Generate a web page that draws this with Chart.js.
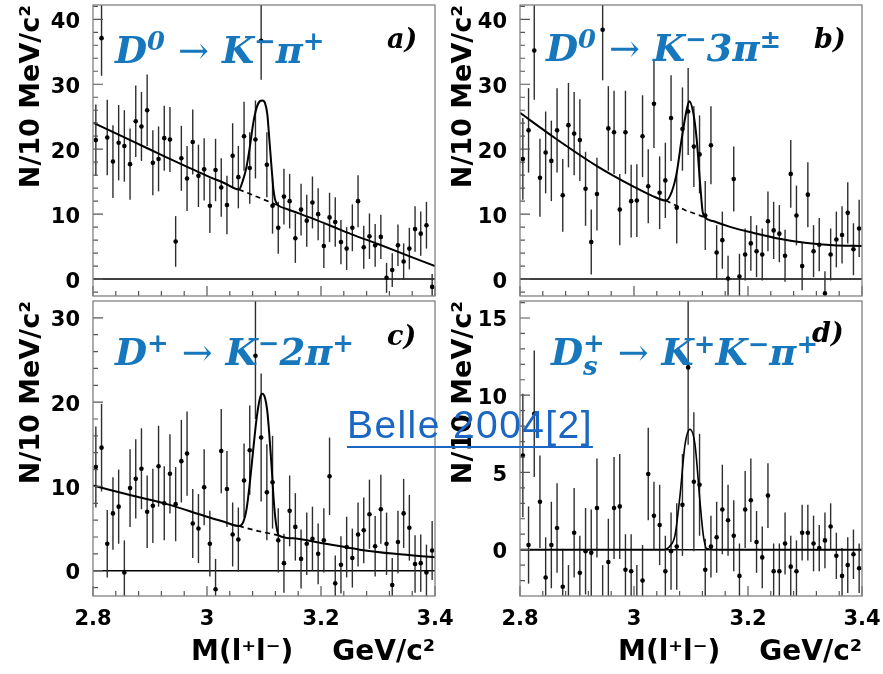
<!DOCTYPE html>
<html lang="en">
<head>
    <meta charset="UTF-8">
    <title>J/psi in D decays - Belle 2004</title>
    <script src="https://cdn.jsdelivr.net/npm/chart.js"></script>
    <style>
        body { margin: 0; background: #fff; }
        #fig { position: relative; width: 883px; height: 674px; background: #fff; overflow: hidden; }
        canvas { position: absolute; }
        .ttl {
            position: absolute; white-space: nowrap; line-height: 1;
            font-family: "DejaVu Serif"; font-weight: bold; font-style: italic;
            font-size: 37px; color: #1677bd;
        }
        .ttl sup { font-size: 0.7em; vertical-align: baseline; position: relative; top: -0.5em; }
        .ttl .ar { font-weight: normal; font-style: normal; }
        .ttl .ss { display: inline-block; font-size: 0.7em; line-height: 0.9; vertical-align: -0.38em; }
        .ttl .ss span { display: block; }
        .lab {
            position: absolute; line-height: 1; font-family: "DejaVu Serif";
            font-weight: bold; font-style: italic; font-size: 27px; color: #000;
        }
        #belle {
            position: absolute; left: 347px; top: 405px; line-height: 1; white-space: nowrap;
            font-family: "Liberation Sans"; font-size: 39px; letter-spacing: 1.4px; color: #1a66c2;
            text-decoration: underline; text-decoration-thickness: 2px; text-underline-offset: 8px;
        }
    </style>
</head>
<body>
<div id="fig">
    <canvas id="pa" width="440" height="300" style="left:0;top:0"></canvas>
    <canvas id="pb" width="443" height="300" style="left:440px;top:0"></canvas>
    <canvas id="pc" width="460" height="378" style="left:0;top:296px"></canvas>
    <canvas id="pd" width="443" height="378" style="left:440px;top:296px"></canvas>

    <div class="ttl" style="left:115px;top:32px">D<sup>0</sup> <span class="ar">→</span> K<sup>−</sup>π<sup>+</sup></div>
    <div class="ttl" style="left:546px;top:30px">D<sup>0</sup> <span class="ar">→</span> K<sup>−</sup>3π<sup>±</sup></div>
    <div class="ttl" style="left:115px;top:334px">D<sup>+</sup> <span class="ar">→</span> K<sup>−</sup>2π<sup>+</sup></div>
    <div class="ttl" style="left:551px;top:332px">D<span class="ss"><span>+</span><span>s</span></span> <span class="ar">→</span> K<sup>+</sup>K<sup>−</sup>π<sup>+</sup></div>

    <div class="lab" style="left:387px;top:25px">a)</div>
    <div class="lab" style="left:814px;top:25px">b)</div>
    <div class="lab" style="left:387px;top:322px">c)</div>
    <div class="lab" style="left:812px;top:319px">d)</div>

    <div id="belle">Belle 2004[2]</div>
</div>

<script>
// bin centres, 10 MeV bins (GeV/c^2)
const bins = [2.805, 2.815, 2.825, 2.835, 2.845, 2.855, 2.865, 2.875, 2.885, 2.895,
              2.905, 2.915, 2.925, 2.935, 2.945, 2.955, 2.965, 2.975, 2.985, 2.995,
              3.005, 3.015, 3.025, 3.035, 3.045, 3.055, 3.065, 3.075, 3.085, 3.095,
              3.105, 3.115, 3.125, 3.135, 3.145, 3.155, 3.165, 3.175, 3.185, 3.195,
              3.205, 3.215, 3.225, 3.235, 3.245, 3.255, 3.265, 3.275, 3.285, 3.295,
              3.305, 3.315, 3.325, 3.335, 3.345, 3.355, 3.365, 3.375, 3.385, 3.395];

// a) D0 -> K- pi+
const aVals = [21.4, 37.1, 21.8, 18.1, 21.0, 20.5, 17.7, 24.3, 23.5, 26.0,
               17.9, 18.5, 21.7, 21.5, 5.8, 18.6, 15.5, 21.1, 15.9, 16.9,
               11.3, 16.8, 14.1, 11.4, 19.0, 15.7, 22.0, 17.1, 21.5, 36.7,
               17.6, 11.3, 7.9, 12.7, 12.0, 6.3, 10.7, 9.0, 11.8, 10.0,
               5.1, 9.5, 8.8, 5.7, 4.7, 7.9, 12.0, 4.9, 6.6, 5.2,
               6.5, 0.2, 1.4, 5.2, 2.7, 4.7, 7.7, 7.0, 8.3, -1.2];
const aErr = [5.5, 5.8, 5.8, 5.6, 5.8, 5.5, 5.5, 5.5, 5.3, 5.5,
              5.0, 5.0, 5.0, 5.0, 3.9, 5.0, 5.0, 5.0, 4.8, 4.8,
              4.2, 4.8, 4.5, 4.5, 5.0, 4.8, 5.3, 5.5, 6.0, 6.0,
              5.0, 4.3, 4.0, 4.3, 4.2, 3.8, 4.0, 4.0, 4.0, 4.0,
              3.4, 3.8, 3.8, 3.4, 3.3, 3.6, 4.0, 3.3, 3.5, 3.3,
              3.4, 2.3, 2.6, 3.2, 2.8, 3.2, 3.5, 3.4, 3.6, 2.0];
const aFitX = [2.8, 2.87, 2.93, 2.97, 3.0, 3.03, 3.056, 3.0637, 3.0696, 3.0754, 3.0813, 3.0871, 3.093,
               3.0971, 3.1018, 3.1058, 3.1094, 3.1135, 3.1164, 3.1193, 3.1234, 3.1257,
               3.14, 3.16, 3.18, 3.22, 3.26, 3.30, 3.35, 3.4];
const aFitY = [24.1, 21.2, 18.7, 17.1, 15.9, 14.8, 13.8, 15.4, 17.4, 20.5, 24.1, 26.4, 27.4,
               27.5, 27.1, 25.4, 21.5, 16.9, 13.9, 12.3, 11.5, 11.3,
               10.8, 10.15, 9.5, 8.1, 6.7, 5.4, 3.7, 2.0];
const aBkgX = [3.056, 3.09, 3.1257];
const aBkgY = [13.8, 12.6, 11.3];

// b) D0 -> K- 3pi
const bVals = [18.5, 22.9, 35.2, 15.6, 19.5, 18.2, 22.9, 12.9, 23.7, 22.4,
               21.4, 13.9, 5.7, 13.1, 38.4, 23.2, 22.6, 10.7, 22.6, 12.0,
               12.1, 22.0, 14.3, 27.0, 13.3, 15.2, 24.8, 11.0, 23.1, 25.8,
               20.4, 19.2, 9.8, 20.6, 4.1, 6.0, 0.1, 15.4, 0.4, 3.8,
               5.5, 4.3, 3.8, 8.9, 7.5, 7.0, 3.6, 16.2, 9.8, 2.0,
               13.0, 4.3, 5.3, -2.2, 3.8, 6.1, 6.8, 10.2, 4.6, 7.8];
const bErr = [6.3, 6.5, 7.6, 6.0, 6.3, 6.2, 6.5, 5.6, 6.5, 6.4,
              6.3, 5.7, 5.0, 5.6, 7.8, 6.5, 6.4, 5.5, 6.4, 5.6,
              5.6, 6.3, 5.7, 6.8, 5.6, 5.8, 6.6, 5.5, 6.4, 6.7,
              6.2, 6.0, 5.3, 6.0, 4.2, 4.4, 3.5, 5.0, 3.5, 4.0,
              4.2, 4.0, 4.0, 4.6, 4.4, 4.4, 4.0, 5.2, 4.6, 3.7,
              5.0, 4.0, 4.1, 3.4, 4.0, 4.3, 4.4, 4.7, 4.0, 4.4];
const bFitX = [2.8, 2.86, 2.935, 3.0, 3.03, 3.056, 3.066, 3.075, 3.0835, 3.0925, 3.097,
               3.104, 3.11, 3.1158, 3.1205, 3.1246, 3.14, 3.17, 3.21, 3.25, 3.3, 3.35, 3.4];
const bFitY = [25.6, 21.8, 17.4, 14.2, 12.9, 12.1, 13.4, 16.4, 21.5, 26.1, 27.4,
               25.6, 21.5, 14.9, 10.3, 9.5, 8.9, 8.0, 7.1, 6.3, 5.6, 5.2, 5.1];
const bBkgX = [3.056, 3.09, 3.1246];
const bBkgY = [12.1, 10.6, 9.5];

// c) D+ -> K- 2pi+
const cVals = [12.3, 14.6, 3.2, 6.8, 7.6, -0.2, 9.8, 10.9, 12.1, 7.0,
               7.7, 12.4, 8.0, 11.5, 7.9, 13.0, 13.9, 5.6, 5.0, 9.9,
               3.2, -2.2, 14.2, 9.7, 4.3, 3.7, 10.7, 14.3, 25.5, 15.8,
               9.3, 10.5, 3.6, 0.9, 7.1, 5.2, 1.4, 3.2, 3.8, 2.0,
               3.6, 11.2, -1.5, 0.7, 2.8, 1.5, 4.3, 4.8, 6.7, 2.9,
               7.3, 3.2, -1.7, 3.4, 6.8, 5.1, 0.8, 0.9, -0.2, 2.4];
const cErr = [4.8, 5.2, 4.0, 4.3, 4.4, 3.8, 4.6, 4.7, 4.8, 4.3,
              4.4, 4.8, 4.4, 4.7, 4.4, 4.9, 5.0, 4.1, 4.1, 4.5,
              3.9, 3.6, 5.0, 4.5, 3.8, 3.8, 4.4, 5.3, 7.5, 7.6,
              5.7, 5.5, 3.8, 3.5, 4.2, 4.0, 3.5, 3.7, 3.8, 3.6,
              3.8, 4.6, 3.3, 3.4, 3.6, 3.5, 3.8, 3.9, 4.1, 3.6,
              4.1, 3.7, 3.2, 3.7, 4.1, 3.9, 3.4, 3.4, 3.3, 3.5];
const cFitX = [2.8, 2.87, 2.93, 3.0, 3.03, 3.056, 3.0637, 3.0696, 3.0754, 3.0813, 3.0871, 3.093, 3.0971,
               3.1018, 3.1058, 3.1094, 3.1135, 3.1164, 3.1193, 3.1222, 3.1257,
               3.15, 3.2, 3.268, 3.33, 3.4];
const cFitY = [10.1, 8.9, 7.9, 6.4, 5.8, 5.3, 5.8, 7.4, 10.6, 14.5, 18.1, 20.5, 21.0,
               20.5, 18.9, 16.1, 12.2, 9.0, 6.6, 5.1, 4.2,
               3.85, 3.3, 2.5, 2.0, 1.6];
const cBkgX = [3.056, 3.09, 3.1257];
const cBkgY = [5.3, 4.7, 4.2];

// d) Ds+ -> K+ K- pi+
const dVals = [6.1, 0.3, 8.8, 3.1, -1.8, 0.3, 1.4, -2.4, -3.4, 1.1,
               -1.5, -0.1, -0.2, 2.7, -3.2, -0.8, 2.7, 2.8, -1.3, -1.4,
               -3.3, -2.0, 4.9, 2.2, 1.6, -1.4, -0.1, 0.2, 2.9, 11.8,
               4.4, 4.2, -1.3, 0.2, 0.8, 2.6, 1.9, 0.9, -1.7, 2.6,
               3.2, 0.5, -0.5, 3.5, -1.4, -1.4, 0.4, -1.1, -1.4, 1.1,
               1.1, 0.4, 0.1, 0.6, 1.5, -0.4, -1.7, -1.0, -0.3, -1.2];
const dErr = [4.0, 2.5, 4.1, 3.0, 2.6, 2.8, 2.9, 2.4, 2.4, 2.9,
              2.4, 2.8, 2.8, 3.2, 2.2, 2.8, 3.3, 3.4, 2.3, 2.4,
              2.3, 2.3, 3.0, 2.2, 2.6, 2.3, 2.5, 2.8, 3.3, 5.0,
              4.5, 3.3, 2.0, 2.0, 2.3, 2.9, 2.3, 2.3, 2.1, 2.5,
              2.7, 2.0, 2.0, 2.1, 1.8, 1.8, 2.0, 2.0, 2.0, 1.8,
              1.8, 1.8, 1.5, 1.8, 1.5, 1.5, 1.8, 1.8, 1.6, 1.6];
const dFitX = [2.8, 3.04, 3.0515, 3.0632, 3.0719, 3.0807, 3.0895, 3.0982, 3.107, 3.1158, 3.1216, 3.1275, 3.14, 3.4];
const dFitY = [0, 0, 0, 0.24, 0.93, 3.5, 6.8, 7.8, 6.8, 3.1, 0.93, 0.07, 0, 0];

// axis ticks
const xMajor = [2.8, 3.0, 3.2, 3.4];
const xTickLabels = ['2.8', '3', '3.2', '3.4'];
const xMinor = [2.84, 2.88, 2.92, 2.96, 3.04, 3.08, 3.12, 3.16, 3.24, 3.28, 3.32, 3.36];
const yMajorAB = [0, 10, 20, 30, 40];
const yMinorAB = [-2, 2, 4, 6, 8, 12, 14, 16, 18, 22, 24, 26, 28, 32, 34, 36, 38, 42];
const yMajorC = [0, 10, 20, 30];
const yMinorC = [-2, 2, 4, 6, 8, 12, 14, 16, 18, 22, 24, 26, 28];
const yMajorD = [0, 5, 10, 15];
const yMinorD = [-2, -1, 1, 2, 3, 4, 6, 7, 8, 9, 11, 12, 13, 14, 16];

const yTitle = 'N/10 MeV/c²';
const xTitle = 'M(l⁺l⁻)    GeV/c²';

// frame, inward ticks, zero line and error bars (ROOT look)
const hepPlugin = {
    id: 'hep',
    beforeDatasetsDraw(chart, args, o) {
        const { ctx, chartArea: ca, scales: { x, y } } = chart;
        ctx.save();
        ctx.beginPath();
        ctx.rect(ca.left, ca.top, ca.width, ca.height);
        ctx.clip();
        ctx.strokeStyle = '#000';
        ctx.lineWidth = 1.5;
        const y0 = y.getPixelForValue(0);
        ctx.beginPath(); ctx.moveTo(ca.left, y0); ctx.lineTo(ca.right, y0); ctx.stroke();
        ctx.strokeStyle = '#2e2e2e';
        ctx.lineWidth = 1.4;
        bins.forEach((b, i) => {
            const px = x.getPixelForValue(b);
            ctx.beginPath();
            ctx.moveTo(px, y.getPixelForValue(o.vals[i] - o.errors[i]));
            ctx.lineTo(px, y.getPixelForValue(o.vals[i] + o.errors[i]));
            ctx.stroke();
        });
        ctx.restore();
    },
    afterDraw(chart, args, o) {
        const { ctx, chartArea: ca, scales: { x, y } } = chart;
        ctx.save();
        ctx.strokeStyle = '#555';
        ctx.lineWidth = 1.2;
        ctx.beginPath();
        o.yMajor.forEach(v => { const p = y.getPixelForValue(v); ctx.moveTo(ca.left, p); ctx.lineTo(ca.left + 10, p); });
        o.yMinor.forEach(v => { const p = y.getPixelForValue(v); ctx.moveTo(ca.left, p); ctx.lineTo(ca.left + 5, p); });
        xMajor.forEach(v => { const p = x.getPixelForValue(v); ctx.moveTo(p, ca.bottom); ctx.lineTo(p, ca.bottom - 10); });
        xMinor.forEach(v => { const p = x.getPixelForValue(v); ctx.moveTo(p, ca.bottom); ctx.lineTo(p, ca.bottom - 5); });
        ctx.stroke();
        ctx.strokeStyle = '#808080';
        ctx.lineWidth = 1.3;
        ctx.strokeRect(ca.left, ca.top, ca.width, ca.height);
        ctx.restore();
    }
};

function panel(id, p) {
    const datasets = [
        {
            data: bins.map((b, i) => ({ x: b, y: p.vals[i] })),
            pointRadius: 2.3, pointBackgroundColor: '#000', pointBorderWidth: 0, clip: 0
        },
        {
            data: p.fitX.map((v, i) => ({ x: v, y: p.fitY[i] })),
            showLine: true, borderColor: '#000', borderWidth: p.fitW, pointRadius: 0,
            cubicInterpolationMode: 'monotone', clip: 0
        }
    ];
    if (p.bkgX) {
        datasets.push({
            data: p.bkgX.map((v, i) => ({ x: v, y: p.bkgY[i] })),
            showLine: true, borderColor: '#000', borderWidth: 1.7, borderDash: [5, 4], pointRadius: 0, clip: 0
        });
    }
    return new Chart(document.getElementById(id), {
        type: 'scatter',
        data: { datasets },
        plugins: [hepPlugin],
        options: {
            responsive: false,
            animation: false,
            layout: { padding: p.pad },
            plugins: {
                legend: { display: false },
                tooltip: { enabled: false },
                hep: { vals: p.vals, errors: p.errors, yMajor: p.yMajor, yMinor: p.yMinor }
            },
            scales: {
                x: {
                    type: 'linear', min: 2.8, max: 3.4, display: p.showX,
                    grid: { display: false, drawTicks: false }, border: { display: false },
                    afterBuildTicks: s => { s.ticks = xMajor.map(v => ({ value: v })); },
                    afterFit: s => {
                        s.height = p.showX ? 78 : 0;
                        s.paddingLeft = 0; s.paddingRight = 0;
                    },
                    ticks: {
                        callback: (v, i) => xTickLabels[i], color: '#000', padding: 11,
                        maxRotation: 0, autoSkip: false,
                        font: { family: 'DejaVu Sans', weight: 'bold', size: 21 }
                    },
                    title: {
                        display: true, text: xTitle, align: 'end', color: '#000',
                        padding: { top: 0, bottom: 4 },
                        font: { family: 'DejaVu Sans', weight: 'bold', size: 28 }
                    }
                },
                y: {
                    type: 'linear', min: p.yMin, max: p.yMax,
                    grid: { display: false, drawTicks: false }, border: { display: false },
                    afterBuildTicks: s => { s.ticks = p.yMajor.map(v => ({ value: v })); },
                    afterFit: s => { s.width = p.yW; s.paddingTop = 0; s.paddingBottom = 0; },
                    ticks: {
                        callback: v => String(v), color: '#000', padding: 13, labelOffset: 3,
                        autoSkip: false,
                        font: { family: 'DejaVu Sans', weight: 'bold', size: 21 }
                    },
                    title: {
                        display: true, text: yTitle, align: 'end', color: '#000',
                        padding: { top: p.yTitlePad, bottom: 0 },
                        font: { family: 'DejaVu Sans', weight: 'bold', size: 27 }
                    }
                }
            }
        }
    });
}

panel('pa', { vals: aVals, errors: aErr, fitX: aFitX, fitY: aFitY, bkgX: aBkgX, bkgY: aBkgY, fitW: 2,
    yMin: -2.6, yMax: 42.2, yMajor: yMajorAB, yMinor: yMinorAB, showX: false, yW: 93, yTitlePad: 16,
    pad: { left: 0, top: 5, right: 5, bottom: 2 } });
panel('pb', { vals: bVals, errors: bErr, fitX: bFitX, fitY: bFitY, bkgX: bBkgX, bkgY: bBkgY, fitW: 2,
    yMin: -2.6, yMax: 42.2, yMajor: yMajorAB, yMinor: yMinorAB, showX: false, yW: 80, yTitlePad: 8,
    pad: { left: 0, top: 5, right: 21, bottom: 2 } });
panel('pc', { vals: cVals, errors: cErr, fitX: cFitX, fitY: cFitY, bkgX: cBkgX, bkgY: cBkgY, fitW: 2,
    yMin: -3, yMax: 32, yMajor: yMajorC, yMinor: yMinorC, showX: true, yW: 93, yTitlePad: 16,
    pad: { left: 0, top: 5, right: 25, bottom: 0 } });
panel('pd', { vals: dVals, errors: dErr, fitX: dFitX, fitY: dFitY, fitW: 1.6,
    yMin: -3, yMax: 16.1, yMajor: yMajorD, yMinor: yMinorD, showX: true, yW: 80, yTitlePad: 8,
    pad: { left: 0, top: 5, right: 21, bottom: 0 } });
</script>
</body>
</html>
